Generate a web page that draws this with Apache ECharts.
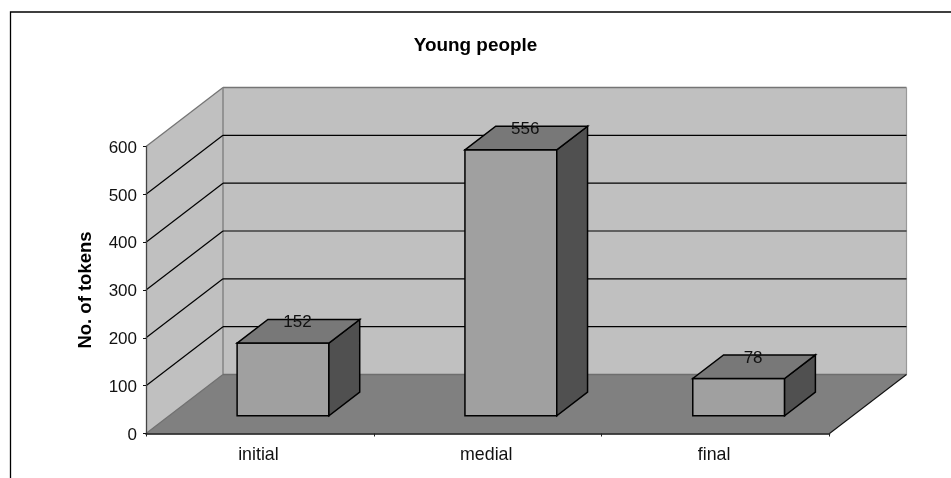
<!DOCTYPE html>
<html>
<head>
<meta charset="utf-8">
<style>html,body{margin:0;padding:0;background:#fff}#chart{width:951px;height:478px}</style>
<script src="https://cdn.jsdelivr.net/npm/echarts@6/dist/echarts.min.js"></script>
</head>
<body>
<div id="chart"></div>
<script>
// Token counts by word position
const categories = ['initial', 'medial', 'final'];
const tokens = [152, 556, 78];
const yTicks = [100, 200, 300, 400, 500];
const chartTitle = 'Young people';
const yAxisTitle = 'No. of tokens';

// Oblique projection of the box: how far the back plane is shifted from the front
const DEPTH_X = 77;
const DEPTH_Y = 59;
const BAR_NEAR = 0.3;   // bar's front face as a fraction of the depth
const BAR_FAR = 0.7;    // bar's back face
const BAR_WIDTH = 0.403; // share of a category band

const FONT = '"Liberation Sans", Arial, sans-serif';
const shade = { wall: '#c0c0c0', wallEdge: '#808080', floor: '#808080', front: '#a0a0a0', top: '#787878', side: '#505050' };

function poly(points, fill, stroke, lineWidth) {
  return { type: 'polygon', shape: { points }, style: { fill, stroke: stroke || 'none', lineWidth: lineWidth || 0 } };
}
function seg(a, b, stroke, lineWidth) {
  return { type: 'line', shape: { x1: a[0], y1: a[1], x2: b[0], y2: b[1] }, style: { stroke, lineWidth } };
}

// Walls and floor, sized from the grid's own rectangle
function renderBox(params) {
  const c = params.coordSys;
  const L = c.x, R = c.x + c.width, T = c.y, B = c.y + c.height;
  const dx = DEPTH_X, dy = DEPTH_Y;
  return {
    type: 'group',
    children: [
      poly([[L, T], [L + dx, T - dy], [L + dx, B - dy], [L, B]], shade.wall),
      poly([[L + dx, T - dy], [R + dx, T - dy], [R + dx, B - dy], [L + dx, B - dy]], shade.wall),
      poly([[L, B], [L + dx, B - dy], [R + dx, B - dy], [R, B]], shade.floor),
      seg([L, T], [L + dx, T - dy], '#757575', 1.3),
      seg([L + dx, T - dy], [R + dx, T - dy], '#757575', 1.6),
      seg([R + dx, T - dy], [R + dx, B - dy], '#999999', 1.2),
      seg([L + dx, T - dy], [L + dx, B - dy], shade.wallEdge, 1.4),
      seg([L + dx, B - dy], [R + dx, B - dy], '#6e6e6e', 1.4),
      seg([L, B], [L + dx, B - dy], '#707070', 1.2),
      seg([R, B], [R + dx, B - dy], '#111111', 1.1)
    ]
  };
}

// One gridline bent around the corner of the side and back walls
function renderGridline(params, api) {
  const c = params.coordSys;
  const y = api.coord([0, api.value(0)])[1];
  const L = c.x, R = c.x + c.width;
  return {
    type: 'group',
    children: [
      seg([L, y], [L + DEPTH_X, y - DEPTH_Y], '#000000', 1.2),
      seg([L + DEPTH_X, y - DEPTH_Y], [R + DEPTH_X, y - DEPTH_Y], '#000000', 1.2)
    ]
  };
}

// A box-shaped bar with its value label above the middle of the top face
function renderBar(params, api) {
  const value = api.value(1);
  const base = api.coord([api.value(0), 0]);
  const top = api.coord([api.value(0), value]);
  const half = api.size([1, 0])[0] * BAR_WIDTH / 2;
  const nx = DEPTH_X * BAR_NEAR, ny = DEPTH_Y * BAR_NEAR;
  const fx = DEPTH_X * BAR_FAR, fy = DEPTH_Y * BAR_FAR;
  const l = base[0] - half, r = base[0] + half;
  const border = { stroke: '#000000', w: 1.5 };
  return {
    type: 'group',
    children: [
      poly([[l + nx, top[1] - ny], [r + nx, top[1] - ny], [r + nx, base[1] - ny], [l + nx, base[1] - ny]], shade.front, border.stroke, border.w),
      poly([[r + nx, top[1] - ny], [r + fx, top[1] - fy], [r + fx, base[1] - fy], [r + nx, base[1] - ny]], shade.side, border.stroke, border.w),
      poly([[l + nx, top[1] - ny], [l + fx, top[1] - fy], [r + fx, top[1] - fy], [r + nx, top[1] - ny]], shade.top, border.stroke, border.w),
      {
        type: 'text',
        style: {
          x: base[0] + DEPTH_X * 0.5 - 1,
          y: top[1] - DEPTH_Y * 0.5,
          text: String(value),
          fill: '#111111',
          font: '17px ' + FONT,
          align: 'center',
          verticalAlign: 'bottom'
        }
      }
    ]
  };
}

const chart = echarts.init(document.getElementById('chart'), null, { renderer: 'canvas' });
chart.setOption({
  animation: false,
  backgroundColor: '#ffffff',
  title: {
    text: chartTitle,
    left: 'center',
    top: 31,
    textStyle: { fontFamily: FONT, fontSize: 18.9, fontWeight: 'bold', color: '#000000' }
  },
  grid: { left: 146, top: 146.5, width: 683.5, height: 287, containLabel: false },
  xAxis: {
    type: 'category',
    data: categories,
    z: 5,
    axisLine: { lineStyle: { color: '#111111', width: 1.6 } },
    axisTick: { show: true, length: 3, alignWithLabel: false, lineStyle: { color: '#222222', width: 1 } },
    axisLabel: { margin: 13, padding: [0, 3, 0, 0], fontFamily: FONT, fontSize: 17.8, color: '#111111' },
    splitLine: { show: false }
  },
  yAxis: {
    type: 'value',
    min: 0,
    max: 600,
    interval: 100,
    z: 5,
    name: yAxisTitle,
    nameLocation: 'middle',
    nameGap: 50.5,
    nameTextStyle: { fontFamily: FONT, fontSize: 18.5, fontWeight: 'bold', color: '#000000' },
    axisLine: { show: true, lineStyle: { color: '#444444', width: 1.3 } },
    axisTick: { show: true, length: 3, lineStyle: { color: '#111111', width: 1 } },
    // Labels sit slightly below their ticks: top-aligned with a short line box
    axisLabel: { margin: 9, verticalAlign: 'top', lineHeight: 3, fontFamily: FONT, fontSize: 17, color: '#111111' },
    splitLine: { show: false }
  },
  graphic: [{
    // Outer chart frame, its right and bottom sides run off the page
    type: 'rect',
    silent: true,
    z: 0,
    shape: { x: 10.5, y: 12, width: 1000, height: 600 },
    style: { fill: 'none', stroke: '#000000', lineWidth: 1.3 }
  }],
  series: [
    { type: 'custom', z: 1, silent: true, clip: false, renderItem: renderBox, data: [[0]] },
    { type: 'custom', z: 2, silent: true, clip: false, renderItem: renderGridline, encode: { y: 0 }, data: yTicks.map(v => [v]) },
    { type: 'custom', z: 3, silent: true, clip: false, renderItem: renderBar, encode: { x: 0, y: 1 }, data: tokens.map((v, i) => [i, v]) }
  ]
});
</script>
</body>
</html>
